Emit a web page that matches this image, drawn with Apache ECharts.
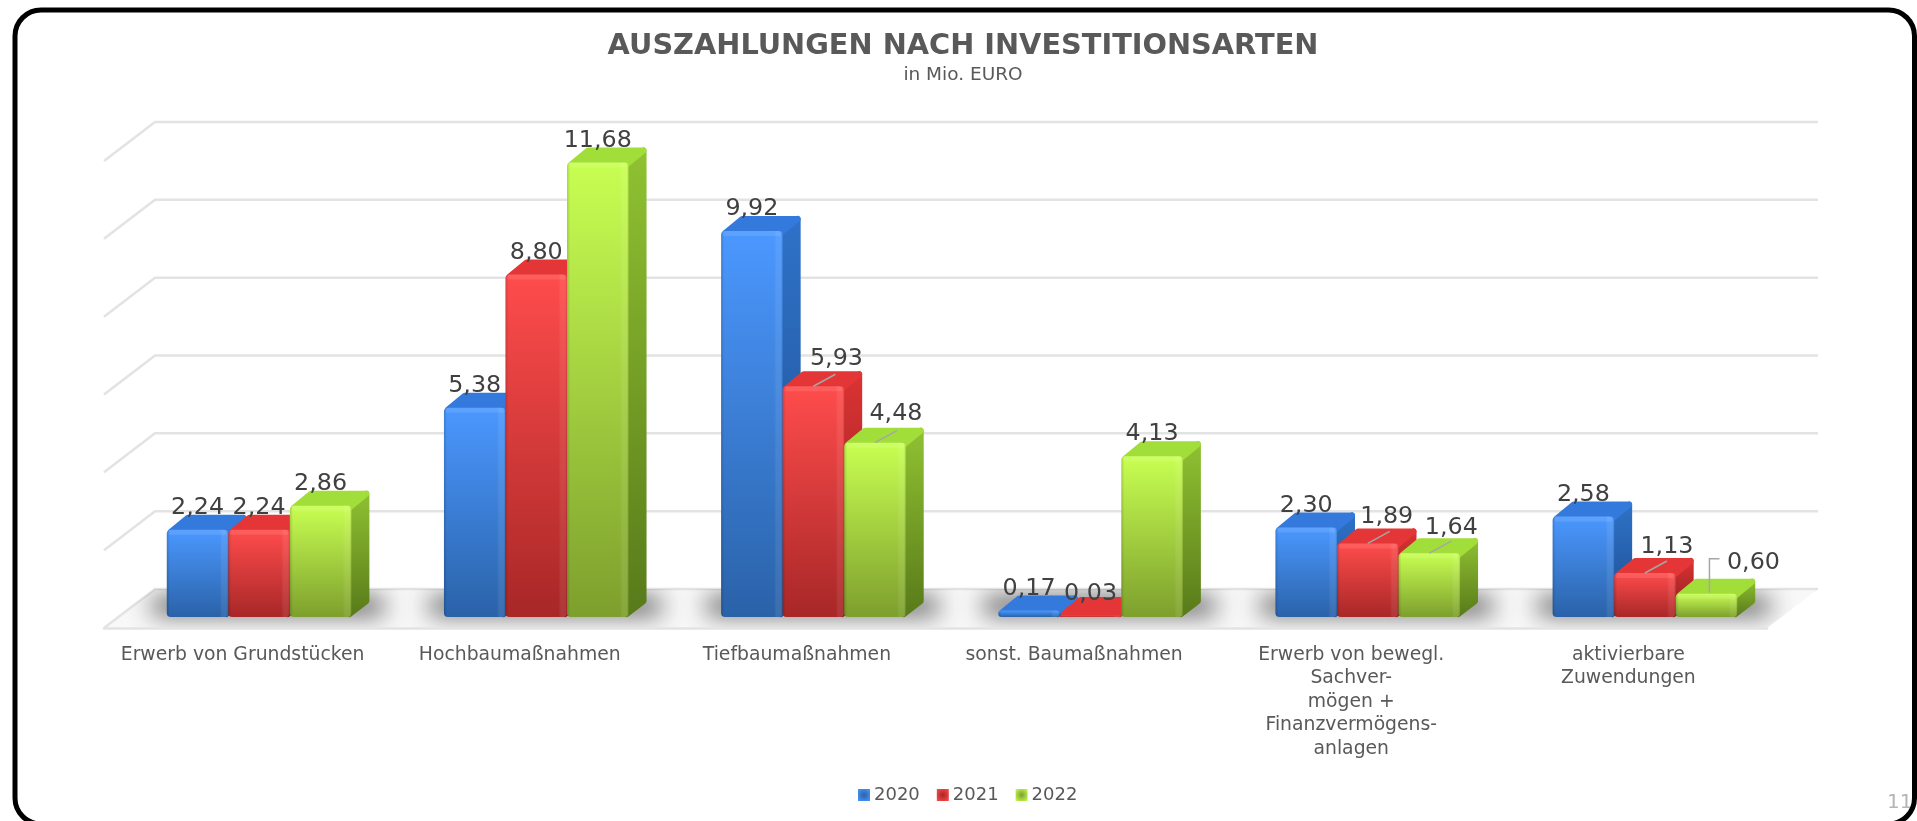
<html>
<head>
    <meta charset="utf-8">
    <title>Auszahlungen nach Investitionsarten</title>
    <script src="https://cdn.jsdelivr.net/npm/echarts@6/dist/echarts.min.js"></script>
    <style>
        html,body { margin: 0; padding: 0; background: #fff; }
        #main { width: 1917px; height: 821px; }
    </style>
</head>
<body>
    <div id="main"></div>
    <script type="text/javascript">
        var categories = ['Erwerb von Grundstücken', 'Hochbaumaßnahmen', 'Tiefbaumaßnahmen', 'sonst. Baumaßnahmen',
            'Erwerb von bewegl.\nSachver-\nmögen +\nFinanzvermögens-\nanlagen', 'aktivierbare\nZuwendungen'];
        var years = ['2020', '2021', '2022'];
        var values2020 = [2.24, 5.38, 9.92, 0.17, 2.30, 2.58];
        var values2021 = [2.24, 8.80, 5.93, 0.03, 1.89, 1.13];
        var values2022 = [2.86, 11.68, 4.48, 4.13, 1.64, 0.60];
        var gridValues = [0, 2, 4, 6, 8, 10, 12];

        // label shifted to the right of its bar, with a leader line ("serie,kategorie")
        var leaderLabels = {
            '1,2': [23, -27], '2,2': [21, -29],
            '1,4': [19, -27], '2,4': [22, -25],
            '1,5': [22, -26], '2,5': [47, -31, 'elbow']
        };

        var colors = [
            { front: ['#4b98ff', '#2a62a8'], side: ['#2f72c8', '#1e4e90'], top: '#3479dc', legend: ['#2a62a8', '#4b98ff'] },
            { front: ['#ff4c4c', '#a82727'], side: ['#dc3333', '#8a1e1e'], top: '#e43636', legend: ['#a82727', '#ff4c4c'] },
            { front: ['#c8ff52', '#7d9f2d'], side: ['#90c232', '#587a1a'], top: '#a2de3a', legend: ['#7d9f2d', '#c8ff52'] }
        ];

        // schraege Projektion: Boden vorne = Grid, Rueckwand und Balken sind verschoben
        var backDx = 51, backDy = -39;
        var barDx = 16.5, barDy = -11;
        var depthDx = 18, depthDy = -15;
        var barRatio = 0.222;
        var gridColor = '#e3e3e3';

        var myChart = echarts.init(document.getElementById('main'));

        function vGrad(c) {
            return new echarts.graphic.LinearGradient(0, 0, 0, 1, [{ offset: 0, color: c[0] }, { offset: 1, color: c[1] }]);
        }

        function renderWall(params, api) {
            var cs = params.coordSys;
            var y = api.coord([0, api.value(0)])[1];
            return {
                type: 'polyline',
                shape: { points: [[cs.x, y], [cs.x + backDx, y + backDy], [cs.x + cs.width + backDx, y + backDy]] },
                style: { stroke: gridColor, lineWidth: 2.5, fill: null }
            };
        }

        function floorPoints(cs, y) {
            return [[cs.x, y], [cs.x + backDx, y + backDy], [cs.x + cs.width + backDx, y + backDy], [cs.x + cs.width, y]];
        }

        function renderFloor(params, api) {
            var cs = params.coordSys;
            return {
                type: 'polygon',
                shape: { points: floorPoints(cs, api.coord([0, 0])[1]) },
                style: { fill: '#f8f8f8' }
            };
        }

        function renderShadow(params, api) {
            var cs = params.coordSys;
            var base = api.coord([api.value(0), 0]);
            var band = api.size([1, 0])[0];
            var w = band * barRatio * 3;
            var left = base[0] + barDx - w / 2;
            var far = 3000; // Form liegt ausserhalb, nur der Schatten ist sichtbar
            return {
                type: 'group',
                clipPath: { type: 'polygon', shape: { points: floorPoints(cs, base[1]) } },
                children: [{
                    type: 'rect',
                    shape: { x: left - 14, y: base[1] + barDy - 19 - far, width: w + depthDx + 28, height: 16 },
                    style: { fill: '#444', shadowColor: 'rgba(40,40,40,0.85)', shadowBlur: 24, shadowOffsetY: far }
                }]
            };
        }

        function makeBarRenderer(serie) {
            var c = colors[serie];
            return function (params, api) {
                var cat = api.value(0), val = api.value(1);
                var band = api.size([1, 0])[0];
                var bw = band * barRatio;
                var cx = api.coord([cat, val])[0] + barDx + (serie - 1) * bw;
                var top = api.coord([cat, val])[1] + barDy;
                var base = api.coord([cat, 0])[1] + barDy;
                var h = base - top;
                var x = cx - bw / 2;
                var r = Math.min(4, h / 2);
                var edge = Math.min(top + 2, base - 3); // flache Balken nicht unter den Boden ziehen
                var children = [];

                // Seite
                children.push({
                    type: 'polygon', z2: 1,
                    shape: { points: [[x + bw - 2, edge], [x + bw + depthDx - 3, edge + depthDy + 1], [x + bw + depthDx - 3, base + depthDy - 1], [x + bw - 2, base - 3]] },
                    style: { fill: vGrad(c.side), stroke: vGrad(c.side), lineWidth: 6, lineJoin: 'round' }
                });
                // Deckel
                children.push({
                    type: 'polygon', z2: 2,
                    shape: { points: [[x + 4, edge], [x + depthDx + 3, edge + depthDy + 1], [x + bw + depthDx - 3, edge + depthDy + 1], [x + bw - 2, edge]] },
                    style: { fill: c.top, stroke: c.top, lineWidth: 6, lineJoin: 'round' }
                });
                // Front
                children.push({
                    type: 'rect', z2: 3,
                    shape: { x: x, y: top, width: bw, height: h, r: r },
                    style: { fill: vGrad(c.front) }
                });
                children.push({
                    type: 'rect', z2: 4,
                    shape: { x: x, y: top, width: bw, height: h, r: r },
                    style: {
                        fill: new echarts.graphic.LinearGradient(0, 0, 1, 0, [
                            { offset: 0, color: 'rgba(0,0,0,0.16)' }, { offset: 0.05, color: 'rgba(0,0,0,0)' },
                            { offset: 0.86, color: 'rgba(255,255,255,0)' }, { offset: 0.9, color: 'rgba(255,255,255,0.08)' },
                            { offset: 0.97, color: 'rgba(255,255,255,0.08)' }, { offset: 1, color: 'rgba(0,0,0,0.12)' }
                        ])
                    }
                });
                if (h > 8) {
                    children.push({
                        type: 'rect', z2: 5,
                        shape: { x: x + 2, y: top, width: bw - 4, height: 5, r: [3, 3, 0, 0] },
                        style: { fill: 'rgba(255,255,255,0.1)' }
                    });
                }

                // Beschriftung
                var shift = leaderLabels[serie + ',' + cat];
                var lx = cx + (shift ? shift[0] : 0);
                var ly = top + (shift ? shift[1] : -22);
                if (shift && shift[2] === 'elbow') {
                    children.push({
                        type: 'polyline', z2: 20,
                        shape: { points: [[cx + 3, top - 1], [cx + 3, top - 35], [cx + 13, top - 35]] },
                        style: { stroke: '#a6a6a6', lineWidth: 1.5, fill: null }
                    });
                } else if (shift) {
                    children.push({
                        type: 'line', z2: 20,
                        shape: { x1: cx, y1: top, x2: cx + 22, y2: top - 12 },
                        style: { stroke: '#a6a6a6', lineWidth: 1.5 }
                    });
                }
                children.push({
                    type: 'text', z2: 30,
                    x: lx, y: ly,
                    style: {
                        text: val.toFixed(2).replace('.', ','),
                        fontFamily: 'DejaVu Sans', fontSize: 23.8,
                        fill: '#404040', align: 'center', verticalAlign: 'middle'
                    }
                });
                return { type: 'group', children: children };
            };
        }

        function barSeries(serie, values) {
            var c = colors[serie];
            return {
                name: years[serie],
                type: 'custom',
                renderItem: makeBarRenderer(serie),
                encode: { x: 0, y: 1 },
                itemStyle: { color: c.front[0] },
                data: values.map(function (v, i) { return [i, v]; }),
                z: 5,
                silent: true
            };
        }

        var option = {
            backgroundColor: '#fff',
            animation: false,
            title: {
                text: 'AUSZAHLUNGEN NACH INVESTITIONSARTEN',
                subtext: 'in Mio. EURO',
                left: 958,
                top: 27,
                textAlign: 'center',
                itemGap: 5,
                textStyle: { fontFamily: 'DejaVu Sans', fontSize: 28.8, fontWeight: 'bold', color: '#595959' },
                subtextStyle: { fontFamily: 'DejaVu Sans', fontSize: 18.5, color: '#595959' }
            },
            legend: {
                data: years.map(function (y, i) {
                    return {
                        name: y,
                        itemStyle: {
                            color: new echarts.graphic.RadialGradient(0.5, 0.5, 0.7, [
                                { offset: 0, color: colors[i].legend[0] }, { offset: 1, color: colors[i].legend[1] }
                            ])
                        }
                    };
                }),
                left: 853,
                top: 781,
                icon: 'rect',
                itemWidth: 12,
                itemHeight: 12,
                itemGap: 17,
                selectedMode: false,
                textStyle: { fontFamily: 'DejaVu Sans', fontSize: 18, color: '#595959', padding: [0, 0, 0, -1] }
            },
            grid: { left: 104, width: 1663, top: 161, height: 467 },
            xAxis: {
                type: 'category',
                data: categories,
                axisTick: { show: false },
                axisLine: { lineStyle: { color: gridColor, width: 2.5 } },
                axisLabel: {
                    interval: 0, margin: 15, lineHeight: 23.5,
                    fontFamily: 'DejaVu Sans', fontSize: 18.8, color: '#595959'
                },
                z: 3
            },
            yAxis: { type: 'value', min: 0, max: 12, interval: 2, show: false },
            graphic: [
                {
                    type: 'text', left: 1887, top: 793, z: 1, silent: true,
                    style: { text: '11', fontFamily: 'DejaVu Sans', fontSize: 20, fill: '#b5b5b5' }
                },
                {
                    type: 'rect', z: 100, silent: true,
                    shape: { x: 15, y: 10, width: 1899.5, height: 814, r: 26 },
                    style: { fill: null, stroke: '#000', lineWidth: 5 }
                }
            ],
            series: [
                { type: 'custom', renderItem: renderFloor, data: [[0]], z: 1, silent: true, encode: { x: -1, y: 0 } },
                { type: 'custom', renderItem: renderWall, data: gridValues.map(function (v) { return [v]; }), z: 2, silent: true, encode: { y: 0 } },
                { type: 'custom', renderItem: renderShadow, data: categories.map(function (n, i) { return [i]; }), z: 3, silent: true, encode: { x: 0 } },
                barSeries(0, values2020),
                barSeries(1, values2021),
                barSeries(2, values2022)
            ]
        };
        myChart.setOption(option);
    </script>
</body>
</html>
